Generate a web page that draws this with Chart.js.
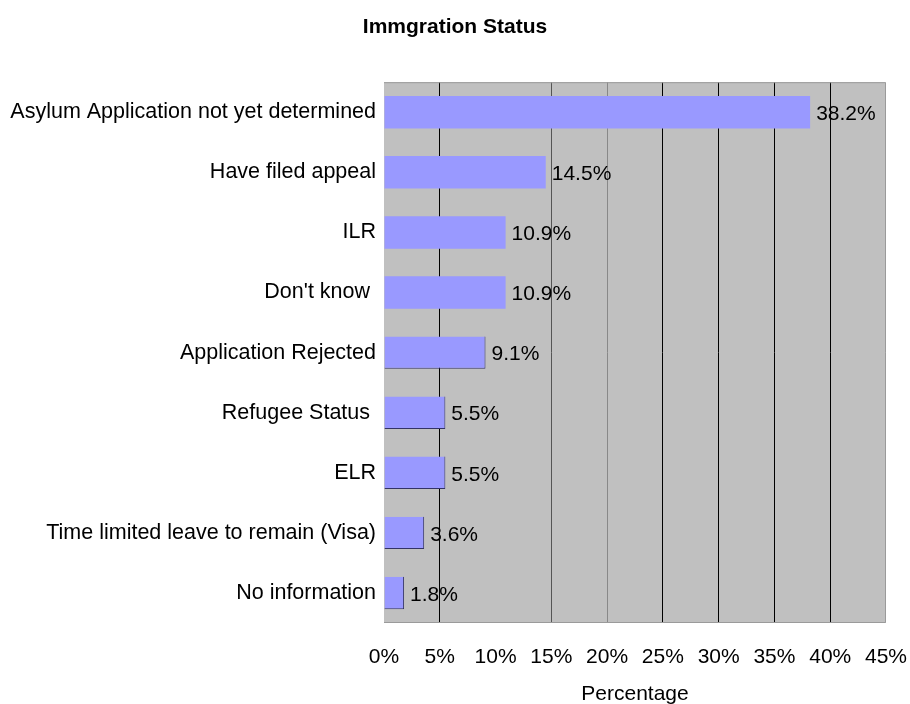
<!DOCTYPE html>
<html>
<head>
<meta charset="utf-8">
<script src="https://cdn.jsdelivr.net/npm/chart.js@4/dist/chart.umd.min.js"></script>
<style>
  html, body { margin: 0; padding: 0; background: #fff; }
  #wrap { width: 910px; height: 704px; }
</style>
</head>
<body>
<div id="wrap"><canvas id="statusChart" width="910" height="704"></canvas></div>
<script>
const categories = [
    'Asylum Application not yet determined',
    'Have filed appeal',
    'ILR',
    "Don't know ",
    'Application Rejected',
    'Refugee Status ',
    'ELR',
    'Time limited leave to remain (Visa)',
    'No information'
];
const percentages = [38.2, 14.5, 10.9, 10.9, 9.1, 5.5, 5.5, 3.6, 1.8];
const xTicks = [0, 5, 10, 15, 20, 25, 30, 35, 40, 45];

const FONT = 'Liberation Sans, Arial, sans-serif';

// grey plot area with a thin frame
const plotBackground = {
    id: 'plotBackground',
    beforeDraw(chart) {
        const a = chart.chartArea, ctx = chart.ctx;
        ctx.save();
        ctx.fillStyle = '#c0c0c0';
        ctx.fillRect(a.left, a.top, a.right - a.left, a.bottom - a.top);
        ctx.restore();
    },
    afterDatasetsDraw(chart) {
        const a = chart.chartArea, ctx = chart.ctx;
        ctx.save();
        ctx.strokeStyle = '#9a9a9a';
        ctx.lineWidth = 1;
        ctx.beginPath();
        ctx.moveTo(a.left, a.top + 0.5);
        ctx.lineTo(a.right - 0.5, a.top + 0.5);
        ctx.lineTo(a.right - 0.5, a.bottom - 0.5);
        ctx.lineTo(a.left, a.bottom - 0.5);
        ctx.stroke();
        ctx.restore();
    }
};

// value labels right of each bar
const valueLabels = {
    id: 'valueLabels',
    afterDatasetsDraw(chart) {
        const ctx = chart.ctx;
        const meta = chart.getDatasetMeta(0);
        ctx.save();
        ctx.font = '21px ' + FONT;
        ctx.fillStyle = '#000';
        ctx.textAlign = 'left';
        ctx.textBaseline = 'middle';
        meta.data.forEach(function(bar, i) {
            ctx.fillText(percentages[i].toFixed(1) + '%', bar.x + 6, bar.y + 2);
        });
        ctx.restore();
    }
};

const gridColors = ['rgba(0,0,0,0)', '#000', 'rgba(0,0,0,0)', '#555', '#888', '#000', '#000', '#000', '#000', 'rgba(0,0,0,0)'];

new Chart(document.getElementById('statusChart').getContext('2d'), {
    type: 'bar',
    data: {
        labels: categories,
        datasets: [{
            data: percentages,
            backgroundColor: '#9999ff',
            borderColor: '#333366',
            borderWidth: function(c) {
                return c.dataIndex >= 4 ? { top: 0, left: 0, right: 1, bottom: 1 } : 0;
            },
            borderSkipped: false,
            categoryPercentage: 1,
            barPercentage: 0.54
        }]
    },
    options: {
        indexAxis: 'y',
        responsive: false,
        animation: false,
        layout: { padding: 0 },
        plugins: {
            legend: { display: false },
            tooltip: { enabled: false },
            title: {
                display: true,
                text: 'Immgration Status',
                color: '#000',
                font: { family: FONT, size: 21, weight: 'bold' },
                padding: { top: 15, bottom: 42 }
            }
        },
        scales: {
            x: {
                min: 0,
                max: 45,
                afterBuildTicks: function(scale) {
                    scale.ticks = xTicks.map(function(v) { return { value: v }; });
                },
                afterFit: function(scale) {
                    scale.height = 81;
                    scale.paddingLeft = 0;
                    scale.paddingRight = 24;
                },
                border: { display: false },
                grid: {
                    drawTicks: false,
                    lineWidth: 1,
                    color: function(c) { return gridColors[c.index]; }
                },
                ticks: {
                    color: '#000',
                    padding: 22,
                    maxRotation: 0,
                    autoSkip: false,
                    font: { family: FONT, size: 21 },
                    callback: function(v) { return v + '%'; }
                },
                title: {
                    display: true,
                    text: 'Percentage',
                    color: '#000',
                    font: { family: FONT, size: 21 },
                    padding: { top: 12, bottom: -3 }
                }
            },
            y: {
                afterFit: function(scale) {
                    scale.width = 384;
                    scale.paddingTop = 0;
                    scale.paddingBottom = 0;
                },
                border: { display: false },
                grid: { display: false, drawTicks: false },
                ticks: {
                    color: '#000',
                    padding: 8,
                    autoSkip: false,
                    font: { family: FONT, size: 21.5 }
                }
            }
        }
    },
    plugins: [plotBackground, valueLabels]
});
</script>
</body>
</html>
